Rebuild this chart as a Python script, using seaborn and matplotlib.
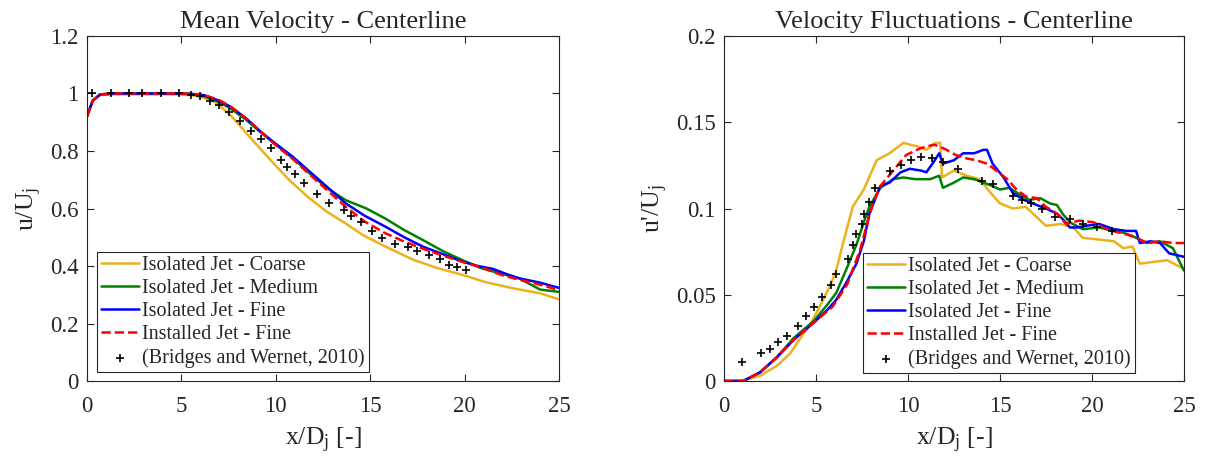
import pandas as pd
import matplotlib
matplotlib.use("Agg")
import matplotlib.pyplot as plt
import seaborn as sns

# --- Mean velocity along centerline (left panel) ---
mean_coarse_x = [0, 0.3, 0.7, 1.5, 3, 4.5, 5.6, 6.2, 6.8, 7.6, 8.6, 9.7, 10.7, 11.7, 12.7, 13.7,
                 14.6, 15.8, 17.3, 18.6, 19.9, 21.1, 22.6, 24.0, 25.0]
mean_coarse_y = [0.92, 0.975, 0.995, 0.997, 0.997, 0.997, 0.994, 0.985, 0.97, 0.925, 0.85, 0.77,
                 0.70, 0.64, 0.589, 0.548, 0.508, 0.468, 0.421, 0.392, 0.369, 0.344, 0.322, 0.305, 0.284]

mean_medium_x = [0, 0.3, 0.7, 1.5, 3, 4.5, 5.5, 6.2, 7.0, 7.6, 8.4, 9.2, 10.0, 10.9, 11.8, 12.7,
                 13.7, 14.8, 15.8, 16.8, 17.8, 18.9, 19.9, 20.9, 21.9, 22.9, 24.0, 25.0]
mean_medium_y = [0.92, 0.975, 0.997, 1.0, 1.0, 1.0, 0.998, 0.99, 0.97, 0.948, 0.91, 0.865, 0.822,
                 0.775, 0.722, 0.672, 0.629, 0.6, 0.565, 0.525, 0.49, 0.45, 0.42, 0.392, 0.374,
                 0.357, 0.318, 0.31]

mean_fine_x = [0, 0.3, 0.7, 1.5, 3, 4.5, 5.5, 6.2, 7.0, 7.6, 8.4, 9.2, 10.0, 10.9, 11.8, 12.7,
               13.7, 14.7, 15.8, 16.8, 17.8, 18.9, 19.9, 20.7, 21.5, 22.3, 22.9, 24.0, 25.0]
mean_fine_y = [0.92, 0.975, 0.997, 1.0, 1.0, 1.0, 0.999, 0.994, 0.975, 0.954, 0.915, 0.867, 0.825,
               0.78, 0.728, 0.676, 0.618, 0.575, 0.537, 0.5, 0.467, 0.44, 0.415, 0.4, 0.39, 0.37,
               0.357, 0.342, 0.324]

mean_inst_x = [0, 0.3, 0.7, 1.5, 3, 4.5, 5.5, 6.2, 7.0, 7.6, 8.4, 9.2, 10.0, 10.9, 11.8, 12.7,
               13.7, 14.7, 15.8, 16.8, 17.8, 18.9, 19.9, 20.9, 21.9, 22.9, 24.0, 25.0]
mean_inst_y = [0.92, 0.975, 0.997, 1.0, 1.0, 1.0, 0.999, 0.995, 0.977, 0.955, 0.915, 0.868, 0.82,
               0.772, 0.718, 0.665, 0.606, 0.555, 0.514, 0.485, 0.46, 0.435, 0.414, 0.395, 0.37,
               0.352, 0.335, 0.316]

mean_exp_x = [0.25, 1.27, 2.2, 2.9, 3.9, 4.85, 5.5, 6.0, 6.5, 7.0, 7.5, 8.1, 8.7, 9.2, 9.75, 10.3,
              10.6, 11.0, 11.5, 12.2, 12.8, 13.6, 14.0, 14.5, 15.1, 15.6, 16.3, 17.0, 17.5, 18.1,
              18.7, 19.2, 19.6, 20.1]
mean_exp_y = [1.0, 1.0, 1.0, 1.0, 1.0, 1.0, 0.995, 0.99, 0.975, 0.96, 0.935, 0.905, 0.87, 0.84,
              0.81, 0.77, 0.745, 0.72, 0.69, 0.652, 0.62, 0.595, 0.575, 0.552, 0.523, 0.499,
              0.478, 0.465, 0.452, 0.438, 0.423, 0.405, 0.395, 0.386]

# --- Velocity fluctuations along centerline (right panel) ---
rms_coarse_x = [0, 1.05, 1.96, 2.9, 3.6, 4.1, 4.7, 5.2, 5.8, 6.1, 6.5, 7.0, 7.6, 8.3, 9.0, 9.75,
                10.5, 11.0, 11.5, 11.75, 11.85, 12.5, 13.2, 13.9, 14.5, 15.0, 15.7, 16.4, 17.0,
                17.5, 18.3, 19.0, 19.5, 20.4, 21.2, 21.7, 22.2, 22.6, 23.3, 24.1, 25.0]
rms_coarse_y = [0, 0.0004, 0.003, 0.009, 0.016, 0.024, 0.033, 0.043, 0.056, 0.064, 0.081, 0.101,
                0.111, 0.128, 0.132, 0.138, 0.136, 0.134, 0.138, 0.138, 0.118, 0.122, 0.119,
                0.117, 0.109, 0.103, 0.1, 0.101, 0.095, 0.09, 0.091, 0.089, 0.083, 0.082, 0.081,
                0.077, 0.078, 0.068, 0.069, 0.07, 0.065]

rms_medium_x = [0, 1.05, 1.96, 2.9, 3.8, 4.9, 5.6, 6.1, 6.7, 7.2, 7.6, 7.9, 8.5, 9.2, 9.75, 10.4,
                11.2, 11.7, 11.9, 12.5, 13.0, 13.6, 14.1, 14.6, 15.0, 15.5, 16.1, 16.6, 17.2,
                17.7, 18.1, 18.4, 18.8, 19.5, 20.4, 21.2, 21.7, 22.2, 23.0, 23.7, 24.4, 25.0]
rms_medium_y = [0, 0, 0.005, 0.014, 0.025, 0.035, 0.044, 0.051, 0.066, 0.079, 0.092, 0.101,
                0.112, 0.117, 0.118, 0.117, 0.117, 0.119, 0.112, 0.115, 0.118, 0.117, 0.115,
                0.113, 0.111, 0.112, 0.108, 0.105, 0.106, 0.103, 0.102, 0.097, 0.092, 0.088,
                0.089, 0.087, 0.086, 0.084, 0.08, 0.081, 0.077, 0.064]

rms_fine_x = [0, 1.05, 1.96, 2.9, 3.8, 4.9, 5.6, 6.1, 6.7, 7.2, 7.6, 7.9, 8.5, 9.0, 9.6, 10.1,
              10.7, 11.0, 11.4, 11.7, 11.9, 12.5, 13.0, 13.6, 14.1, 14.3, 14.6, 15.2, 15.7, 16.3,
              17.0, 17.5, 18.1, 18.4, 18.8, 19.2, 19.7, 20.4, 21.2, 21.9, 22.4, 22.6, 23.2, 23.7,
              24.2, 25.0]
rms_fine_y = [0, 0, 0.005, 0.014, 0.024, 0.034, 0.041, 0.047, 0.058, 0.068, 0.081, 0.097, 0.113,
              0.115, 0.121, 0.123, 0.122, 0.121, 0.127, 0.132, 0.126, 0.128, 0.132, 0.132, 0.134,
              0.134, 0.126, 0.118, 0.109, 0.105, 0.102, 0.1, 0.097, 0.094, 0.089, 0.089, 0.09,
              0.091, 0.088, 0.087, 0.087, 0.08, 0.081, 0.08, 0.074, 0.072]

rms_inst_x = [0, 1.05, 1.96, 2.9, 3.8, 4.9, 5.9, 6.7, 7.4, 7.75, 8.1, 8.5, 9.2, 9.9, 10.7, 11.4,
              11.7, 12.1, 12.6, 13.2, 13.7, 14.3, 14.8, 15.4, 15.9, 16.4, 17.0, 17.5, 18.1, 18.6,
              19.3, 20.1, 20.8, 21.5, 22.2, 23.0, 23.7, 24.4, 25.0]
rms_inst_y = [0, 0, 0.005, 0.014, 0.024, 0.034, 0.043, 0.056, 0.076, 0.09, 0.103, 0.113, 0.122,
              0.131, 0.135, 0.137, 0.136, 0.134, 0.131, 0.129, 0.128, 0.126, 0.122, 0.117, 0.111,
              0.107, 0.106, 0.101, 0.097, 0.091, 0.093, 0.092, 0.088, 0.086, 0.084, 0.08, 0.081,
              0.08, 0.08]

rms_exp_x = [1.0, 2.0, 2.5, 2.95, 3.4, 4.0, 4.45, 4.9, 5.35, 5.8, 6.1, 6.75, 7.0, 7.2, 7.5, 7.6,
             7.9, 8.2, 9.0, 9.6, 10.15, 10.7, 11.3, 11.9, 12.7, 14.0, 14.6, 15.7, 16.2, 16.7,
             17.3, 18.0, 18.8, 19.5, 20.25, 21.1]
rms_exp_y = [0.011, 0.0164, 0.0187, 0.0226, 0.026, 0.0317, 0.0376, 0.043, 0.0486, 0.0554, 0.062,
             0.071, 0.0786, 0.085, 0.091, 0.097, 0.104, 0.112, 0.122, 0.125, 0.128, 0.13, 0.129,
             0.127, 0.123, 0.116, 0.114, 0.107, 0.105, 0.103, 0.1, 0.095, 0.094, 0.091, 0.089,
             0.087]

labels = ["Isolated Jet - Coarse", "Isolated Jet - Medium", "Isolated Jet - Fine",
          "Installed Jet - Fine"]
colors = ["#EDB120", "#008000", "#0000FF", "#FF0000"]
styles = ["-", "-", "-", "--"]
exp_label = "(Bridges and Wernet, 2010)"

sns.set_theme(style="ticks")
plt.rcParams["font.family"] = ["Liberation Serif", "DejaVu Serif"]
plt.rcParams["mathtext.fontset"] = "custom"
plt.rcParams["mathtext.rm"] = "Liberation Serif"
plt.rcParams["mathtext.it"] = "Liberation Serif:italic"

fig = plt.figure(figsize=(12.05, 4.62), dpi=100)
ax1 = fig.add_axes([0.0722, 0.1753, 0.3917, 0.7468])
ax2 = fig.add_axes([0.6008, 0.1753, 0.3817, 0.7468])


def draw_panel(ax, series, exp_x, exp_y):
    for (x, y), lab, col, ls in zip(series, labels, colors, styles):
        df = pd.DataFrame({"x": x, "y": y})
        sns.lineplot(data=df, x="x", y="y", ax=ax, color=col, linestyle=ls, linewidth=1.8,
                     label=lab, sort=False)
    exp = pd.DataFrame({"x": exp_x, "y": exp_y})
    sns.scatterplot(data=exp, x="x", y="y", ax=ax, marker="+", color="black", s=30,
                    linewidth=1.2, label=exp_label, zorder=5)


draw_panel(ax1, [(mean_coarse_x, mean_coarse_y), (mean_medium_x, mean_medium_y),
                 (mean_fine_x, mean_fine_y), (mean_inst_x, mean_inst_y)], mean_exp_x, mean_exp_y)
draw_panel(ax2, [(rms_coarse_x, rms_coarse_y), (rms_medium_x, rms_medium_y),
                 (rms_fine_x, rms_fine_y), (rms_inst_x, rms_inst_y)], rms_exp_x, rms_exp_y)

ax1.set_xlim(0, 25)
ax1.set_ylim(0, 1.2)
ax1.set_yticks([0, 0.2, 0.4, 0.6, 0.8, 1.0, 1.2])
ax1.set_yticklabels(["0", "0.2", "0.4", "0.6", "0.8", "1", "1.2"])
ax1.set_title("Mean Velocity - Centerline", fontsize=19, pad=6)
ax1.set_ylabel(r"u/U$_\mathregular{j}$", fontsize=18.5, labelpad=4)

ax2.set_xlim(0, 25)
ax2.set_ylim(0, 0.2)
ax2.set_yticks([0, 0.05, 0.1, 0.15, 0.2])
ax2.set_yticklabels(["0", "0.05", "0.1", "0.15", "0.2"])
ax2.set_title("Velocity Fluctuations - Centerline", fontsize=19, pad=6)
ax2.set_ylabel(r"u'/U$_\mathregular{j}$", fontsize=18.5, labelpad=4)

for ax in (ax1, ax2):
    ax.set_xticks([0, 5, 10, 15, 20, 25])
    ax.set_xlabel(r"x/D$_\mathregular{j}$ [-]", fontsize=18.5, labelpad=6)
    ax.tick_params(direction="in", top=True, right=True, labelsize=16.5, length=5,
                   width=0.8, colors="#262626")
    ax.tick_params(axis="x", pad=11)
    ax.tick_params(axis="y", pad=6)
    for sp in ax.spines.values():
        sp.set_visible(True)
        sp.set_linewidth(0.8)
        sp.set_color("#262626")

leg_kw = dict(loc="lower left", fontsize=14.5, frameon=True, fancybox=False, framealpha=1,
              edgecolor="#262626", borderaxespad=0, handlelength=1.9, handletextpad=0.15,
              labelspacing=0.2, borderpad=0.2)
l1 = ax1.legend(bbox_to_anchor=(0.021, 0.026), **leg_kw)
l2 = ax2.legend(bbox_to_anchor=(0.302, 0.023), **leg_kw)
for leg in (l1, l2):
    leg.get_frame().set_linewidth(0.8)

fig.savefig("out.png", dpi=100, facecolor="white")
